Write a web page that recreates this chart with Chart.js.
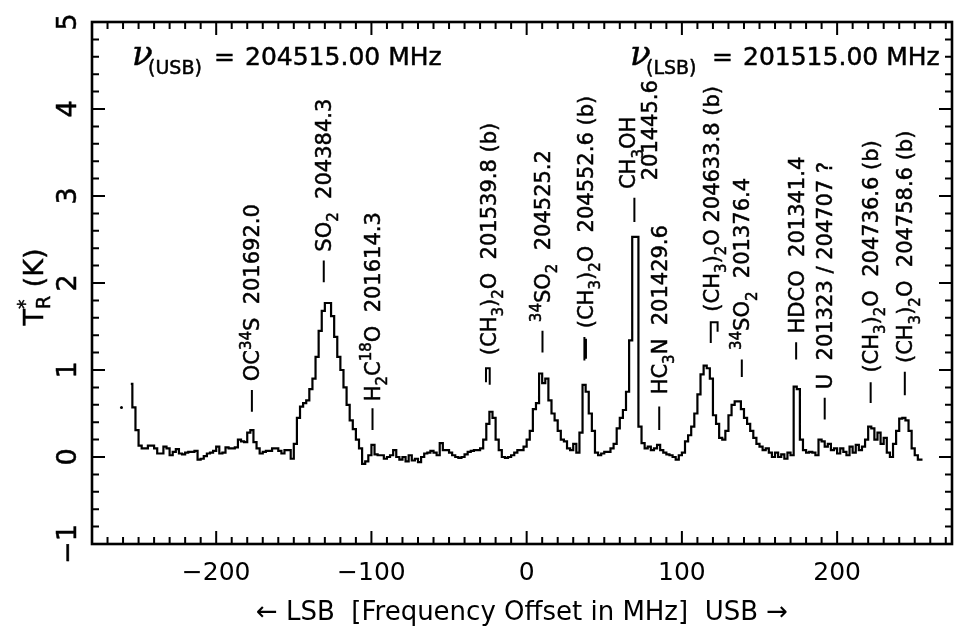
<!DOCTYPE html>
<html>
<head>
<meta charset="utf-8">
<script src="https://cdn.jsdelivr.net/npm/chart.js@4.4.1/dist/chart.umd.min.js"></script>
<style>
  html, body { margin: 0; padding: 0; background: #fff; }
  #wrap { width: 956px; height: 632px; }
</style>
</head>
<body>
<div id="wrap"><canvas id="spec" width="956" height="632"></canvas></div>
<script>
// channel grid: offset of the first channel and channel spacing (MHz)
const chanStart = -255;
const chanWidth = 2;

// T_R* (K) per channel, from -255 to +255 MHz
const tR = [
  0.84, 0.57, 0.31, 0.13, 0.10, 0.10, 0.13, 0.13, 0.10, 0.04,
  0.04, 0.12, 0.10, 0.02, 0.06, 0.09, 0.04, 0.03, 0.05, 0.06,
  0.06, 0.07, -0.03, -0.02, 0.01, 0.04, 0.05, 0.07, 0.12, 0.04,
  0.05, 0.11, 0.10, 0.10, 0.11, 0.20, 0.18, 0.17, 0.28, 0.31,
  0.17, 0.10, 0.04, 0.06, 0.07, 0.07, 0.10, 0.10, 0.07, 0.04,
  0.08, 0.08, -0.02, 0.15, 0.45, 0.58, 0.62, 0.65, 0.78, 0.90,
  1.15, 1.45, 1.68, 1.77, 1.77, 1.62, 1.38, 1.15, 1.00, 0.80,
  0.60, 0.42, 0.32, 0.20, 0.10, -0.08, -0.05, 0.02, 0.14, 0.03,
  0.02, 0.02, -0.02, 0.00, 0.02, 0.08, 0.00, -0.03, 0.00, -0.05,
  0.02, -0.04, -0.02, -0.06, 0.00, 0.04, 0.05, 0.07, 0.05, 0.02,
  0.16, 0.08, 0.08, 0.05, 0.02, 0.00, -0.01, 0.00, 0.03, 0.06,
  0.07, 0.08, 0.08, 0.10, 0.20, 0.38, 0.52, 0.45, 0.20, 0.08,
  0.00, -0.01, 0.00, 0.02, 0.05, 0.08, 0.08, 0.12, 0.20, 0.30,
  0.55, 0.62, 0.96, 0.85, 0.90, 0.65, 0.50, 0.42, 0.30, 0.20,
  0.18, 0.10, 0.08, 0.15, 0.05, 0.28, 0.83, 0.75, 0.50, 0.30,
  0.05, 0.02, 0.04, 0.06, 0.06, 0.10, 0.15, 0.33, 0.45, 0.54,
  0.75, 1.34, 2.53, 2.53, 0.35, 0.16, 0.10, 0.12, 0.08, 0.10,
  0.14, 0.08, 0.05, 0.03, 0.02, 0.00, -0.03, 0.02, 0.05, 0.18,
  0.25, 0.35, 0.50, 0.72, 0.95, 1.05, 1.02, 0.90, 0.48, 0.38,
  0.22, 0.20, 0.30, 0.48, 0.60, 0.64, 0.64, 0.55, 0.45, 0.38,
  0.30, 0.22, 0.15, 0.12, 0.08, 0.10, 0.05, 0.00, 0.05, 0.00,
  0.03, -0.02, 0.05, 0.02, 0.81, 0.78, 0.20, 0.08, 0.05, 0.06,
  0.05, 0.02, 0.20, 0.18, 0.12, 0.15, 0.08, 0.10, 0.04, 0.10,
  0.06, 0.02, 0.12, 0.05, 0.14, 0.08, 0.12, 0.20, 0.35, 0.33,
  0.20, 0.28, 0.15, 0.22, 0.05, 0.00, 0.15, 0.30, 0.44, 0.45,
  0.42, 0.30, 0.10, 0.02, -0.03, -0.03
];

// lone sample left of the band edge
const strayPoint = [{ x: -261, y: 0.57 }];

// identification ticks, vertices as [MHz, K]
const markPaths = [
  [[-177, 0.52], [-177, 0.77]],
  [[-130.7, 2.01], [-130.7, 2.26]],
  [[-99.3, 0.31], [-99.3, 0.56]],
  [[-26.2, 0.86], [-26.2, 1.02], [-23.8, 1.02], [-23.8, 0.83]],
  [[10.2, 1.20], [10.2, 1.45]],
  [[37.2, 1.11], [37.2, 1.38]],
  [[38.2, 1.13], [38.2, 1.36]],
  [[69.4, 2.70], [69.4, 2.98]],
  [[85.4, 0.31], [85.4, 0.58]],
  [[118.6, 1.31], [118.6, 1.55], [123.0, 1.55], [123.0, 1.44]],
  [[138.6, 0.92], [138.6, 1.12]],
  [[173.6, 1.12], [173.6, 1.32]],
  [[192.0, 0.43], [192.0, 0.68]],
  [[221.6, 0.62], [221.6, 0.86]],
  [[243.6, 0.71], [243.6, 0.98]]
];

// line labels (_{} subscript, ^{} superscript), anchored at MHz / K of their lower end
const lineLabels = [
  'OC^{34}S  201692.0',
  'SO_{2}  204384.3',
  'H_{2}C^{18}O  201614.3',
  '(CH_{3})_{2}O  201539.8 (b)',
  '^{34}SO_{2}  204525.2',
  '(CH_{3})_{2}O  204552.6 (b)',
  'CH_{3}OH',
  '201445.6',
  'HC_{3}N  201429.6',
  '(CH_{3})_{2}O 204633.8 (b)',
  '^{34}SO_{2}  201376.4',
  'HDCO  201341.4',
  'U  201323 / 204707 ?',
  '(CH_{3})_{2}O  204736.6 (b)',
  '(CH_{3})_{2}O  204758.6 (b)'
];
const labelX = [-177, -130.7, -99.3, -24.8, 10.2, 37.6, 65.2, 79.4, 85.4, 118.8, 138.6, 173.6, 192.0, 221.6, 243.6];
const labelY = [0.87, 2.36, 0.64, 1.17, 1.55, 1.48, 3.08, 3.18, 0.72, 1.67, 1.23, 1.42, 0.78, 0.97, 1.08];

const xTickValues = [-200, -100, 0, 100, 200];
const yTickValues = [-1, 0, 1, 2, 3, 4, 5];
const xMinorStep = 10;
const yMinorStep = 0.2;

const FONT = '"DejaVu Sans"';

const spectrum = tR.map((v, i) => ({ x: chanStart + i * chanWidth, y: v }));
const markPts = [];
markPaths.forEach(p => {
  p.forEach(([x, y]) => markPts.push({ x, y }));
  markPts.push({ x: p[p.length - 1][0], y: null });
});

function richParts(str) {
  const out = [];
  const re = /([_^])\{([^}]*)\}|([^_^]+)/g;
  let m;
  while ((m = re.exec(str)) !== null) {
    if (m[3] !== undefined) out.push({ text: m[3], shift: 0 });
    else out.push({ text: m[2], shift: m[1] === '_' ? 1 : -1 });
  }
  return out;
}

// fill plus a hairline stroke, so the glyphs carry a little more weight
function inkText(ctx, s, x, y) {
  ctx.fillText(s, x, y);
  ctx.strokeText(s, x, y);
}

// draws along +x of the current transform, glyph bodies centred on y = 0
function drawRich(ctx, str, size, align, subDrop) {
  const parts = richParts(str);
  const small = Math.round(size * 0.72);
  const drop = subDrop === undefined ? 0.34 : subDrop;
  let x = 0, prev = null;
  for (const p of parts) {
    ctx.font = (p.shift ? small : size) + 'px ' + FONT;
    p.w = ctx.measureText(p.text).width;
    if (prev && prev.shift && p.shift && prev.shift !== p.shift) {
      p.x = prev.x;
      x = Math.max(x, p.x + p.w);
    } else {
      p.x = x;
      x += p.w;
    }
    prev = p;
  }
  const off = align === 'center' ? -x / 2 : 0;
  const base = size * 0.36;
  ctx.textAlign = 'left';
  ctx.textBaseline = 'alphabetic';
  for (const p of parts) {
    ctx.font = (p.shift ? small : size) + 'px ' + FONT;
    const dy = p.shift === 1 ? size * drop : p.shift === -1 ? -size * 0.42 : 0;
    inkText(ctx, p.text, off + p.x, base + dy);
  }
}

function drawFreq(ctx, x0, base, band, value) {
  ctx.textAlign = 'left';
  ctx.textBaseline = 'alphabetic';
  ctx.font = 'italic 34px "DejaVu Serif"';
  inkText(ctx, '\u03BD', x0, base);
  ctx.font = '19px ' + FONT;
  inkText(ctx, '(' + band + ')', x0 + 16, base + 9);
  ctx.font = '25px ' + FONT;
  inkText(ctx, '=', x0 + 82, base);
  inkText(ctx, value + ' MHz', x0 + 113, base);
}

const frameAndText = {
  id: 'frameAndText',
  afterDraw(chart) {
    const { ctx, chartArea: a, scales: { x, y } } = chart;
    ctx.save();
    ctx.strokeStyle = '#000';
    ctx.fillStyle = '#000';

    // box
    ctx.lineWidth = 2.6;
    ctx.strokeRect(a.left, a.top, a.right - a.left, a.bottom - a.top);

    // inward ticks on all four sides
    ctx.lineWidth = 2;
    ctx.beginPath();
    for (let k = Math.ceil(x.min / xMinorStep); k * xMinorStep <= x.max; k++) {
      const v = k * xMinorStep;
      const len = v % 100 === 0 ? 13 : 7;
      const px = x.getPixelForValue(v);
      ctx.moveTo(px, a.bottom); ctx.lineTo(px, a.bottom - len);
      ctx.moveTo(px, a.top); ctx.lineTo(px, a.top + len);
    }
    for (let k = Math.ceil(y.min / yMinorStep - 1e-6); k * yMinorStep <= y.max + 1e-6; k++) {
      const v = k * yMinorStep;
      const len = Math.abs(v - Math.round(v)) < 1e-6 ? 13 : 7;
      const py = y.getPixelForValue(v);
      ctx.moveTo(a.left, py); ctx.lineTo(a.left + len, py);
      ctx.moveTo(a.right, py); ctx.lineTo(a.right - len, py);
    }
    ctx.stroke();

    ctx.lineWidth = 0.5;

    // rotated y tick labels
    y.ticks.forEach(t => {
      ctx.save();
      ctx.translate(66, y.getPixelForValue(t.value));
      ctx.rotate(-Math.PI / 2);
      drawRich(ctx, String(t.value).replace('-', '\u2212'), 27, 'center');
      ctx.restore();
    });

    // y title
    ctx.save();
    ctx.translate(33, 287);
    ctx.rotate(-Math.PI / 2);
    drawRich(ctx, 'T^{*}_{R} (K)', 27, 'center', 0.26);
    ctx.restore();

    // band centre frequencies
    drawFreq(ctx, 132, 65, 'USB', '204515.00');
    drawFreq(ctx, 630, 65, 'LSB', '201515.00');

    // line identifications
    lineLabels.forEach((s, i) => {
      ctx.save();
      ctx.translate(x.getPixelForValue(labelX[i]), y.getPixelForValue(labelY[i]));
      ctx.rotate(-Math.PI / 2);
      drawRich(ctx, s, 21, 'left');
      ctx.restore();
    });
    ctx.restore();
  }
};

Chart.defaults.font.family = FONT;
Chart.defaults.color = '#000';

new Chart(document.getElementById('spec'), {
  type: 'line',
  data: {
    datasets: [
      {
        data: spectrum,
        stepped: 'middle',
        borderColor: '#000',
        borderWidth: 2.2,
        pointRadius: 0,
        fill: false
      },
      {
        data: markPts,
        borderColor: '#000',
        borderWidth: 2,
        pointRadius: 0,
        spanGaps: false,
        fill: false
      },
      {
        type: 'scatter',
        data: strayPoint,
        pointRadius: 1.5,
        backgroundColor: '#000',
        borderWidth: 0
      }
    ]
  },
  options: {
    responsive: false,
    devicePixelRatio: 1,
    animation: false,
    events: [],
    layout: { padding: { top: 22, right: 3, left: 0, bottom: 0 } },
    plugins: { legend: { display: false }, tooltip: { enabled: false } },
    scales: {
      x: {
        type: 'linear',
        min: -280,
        max: 274,
        grid: { display: false, drawTicks: false },
        border: { display: false },
        afterBuildTicks: s => { s.ticks = xTickValues.map(v => ({ value: v })); },
        afterFit: s => { s.height = 88; },
        ticks: {
          font: { size: 25 },
          padding: 14,
          maxRotation: 0,
          callback: v => String(v).replace('-', '\u2212')
        },
        title: {
          display: true,
          text: '\u2190 LSB  [Frequency Offset in MHz]  USB \u2192',
          font: { size: 26 },
          padding: { top: 0, bottom: 3 }
        }
      },
      y: {
        type: 'linear',
        min: -1,
        max: 5,
        grid: { display: false, drawTicks: false },
        border: { display: false },
        afterBuildTicks: s => { s.ticks = yTickValues.map(v => ({ value: v })); },
        afterFit: s => { s.width = 92; },
        ticks: { display: false }
      }
    }
  },
  plugins: [frameAndText]
});
</script>
</body>
</html>
